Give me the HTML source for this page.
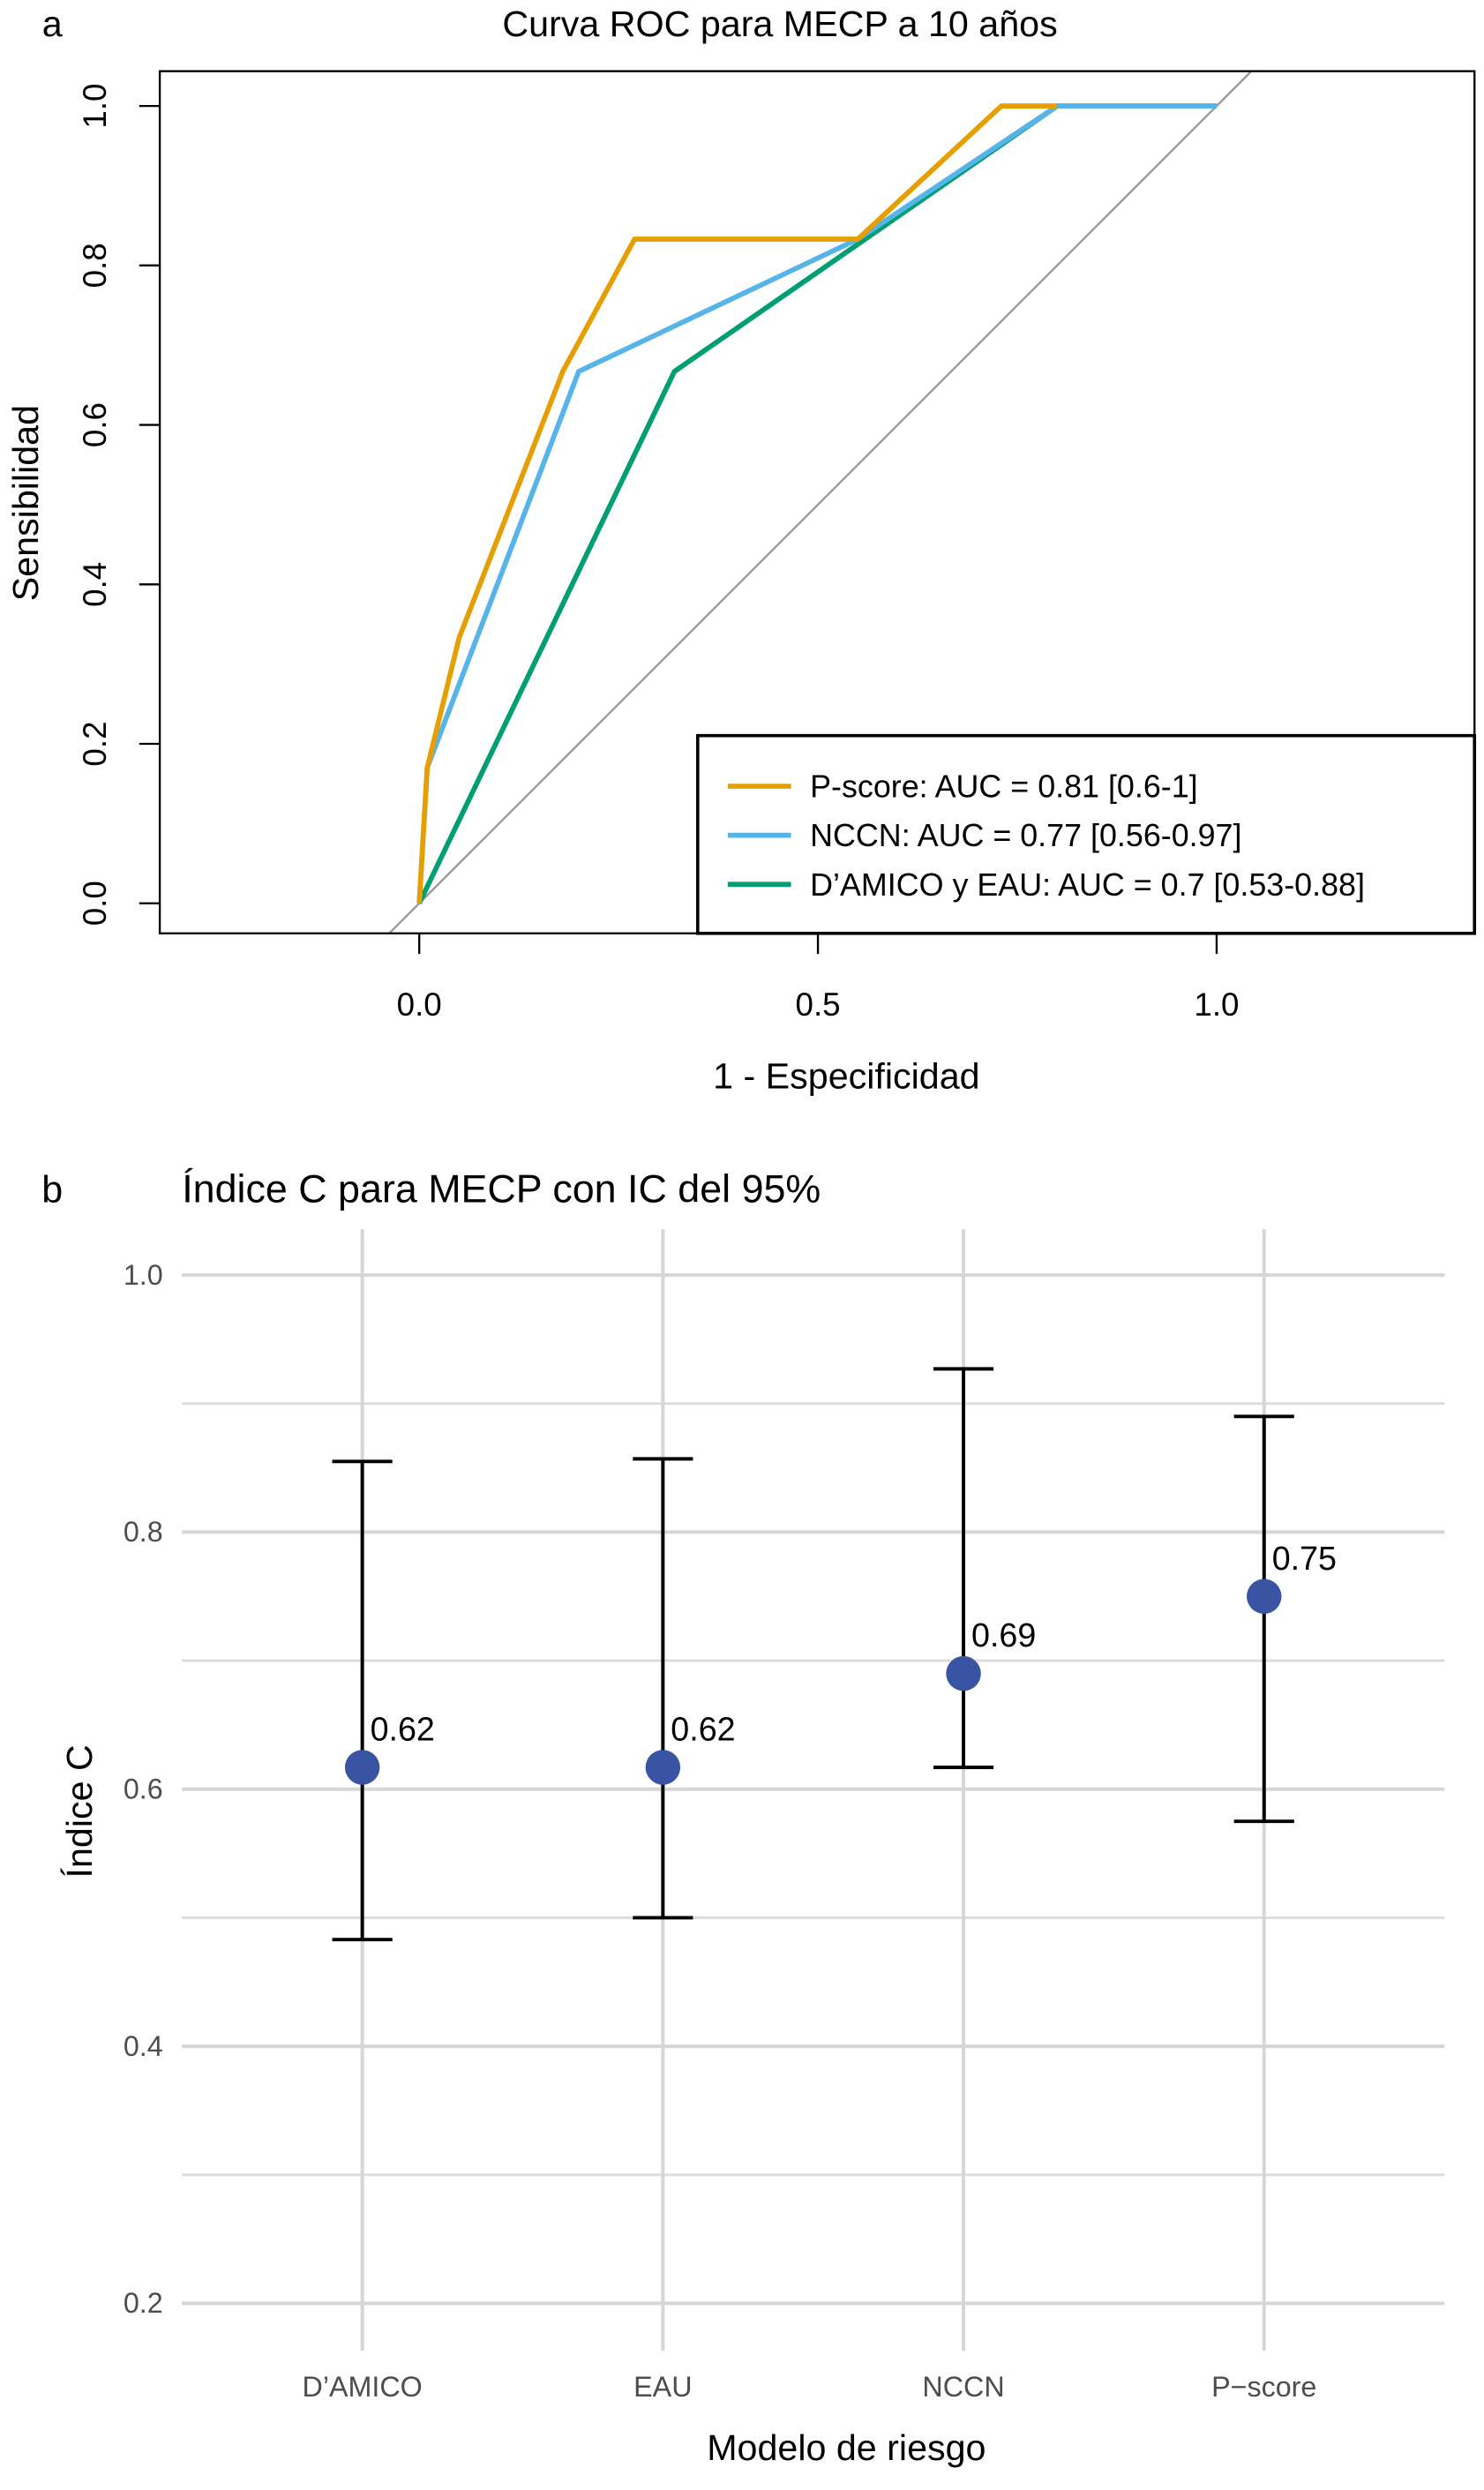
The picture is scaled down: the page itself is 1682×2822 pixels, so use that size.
<!DOCTYPE html>
<html><head><meta charset="utf-8"><style>
html,body{margin:0;padding:0;background:#fff}
svg{display:block;font-family:"Liberation Sans",sans-serif}
</style></head><body>
<svg id="fig" width="1682" height="2822" viewBox="0 0 938 1574" preserveAspectRatio="none" xmlns="http://www.w3.org/2000/svg">
<g id="pa"></g>
<g id="pb"></g>
</svg>
<script>
// ROC data
const rocNames = ["P-score","NCCN","D'AMICO y EAU"];
const rocFpr = [
  [0,0.01,0.05,0.18,0.27,0.55,0.73,0.80],
  [0,0.01,0.20,0.55,0.80,1.0],
  [0,0.32,0.80,1.0]
];
const rocTpr = [
  [0,0.17,0.333,0.667,0.833,0.833,1,1],
  [0,0.17,0.667,0.833,1,1],
  [0,0.667,1,1]
];
const rocLegend = ["P-score: AUC = 0.81 [0.6-1]","NCCN: AUC = 0.77 [0.56-0.97]","D\u2019AMICO y EAU: AUC = 0.7 [0.53-0.88]"];
const rocXTicks = [0,0.5,1];
const rocXTickLabels = ["0.0","0.5","1.0"];
const rocYTicks = [0,0.2,0.4,0.6,0.8,1];
const rocYTickLabels = ["0.0","0.2","0.4","0.6","0.8","1.0"];
// C-index data
const models = ["D\u2019AMICO","EAU","NCCN","P\u2212score"];
const cIndex = [0.617,0.617,0.69,0.75];
const cLabels = ["0.62","0.62","0.69","0.75"];
const ciLow = [0.483,0.5,0.617,0.575];
const ciHigh = [0.855,0.857,0.927,0.89];
const cYTicks = [0.2,0.4,0.6,0.8,1.0];
const cYTickLabels = ["0.2","0.4","0.6","0.8","1.0"];
const cYMinor = [0.3,0.5,0.7,0.9];

const NS="http://www.w3.org/2000/svg";
function mk(parent,tag,attrs,text){const e=document.createElementNS(NS,tag);for(const k in attrs)e.setAttribute(k,attrs[k]);if(text!==undefined)e.textContent=text;parent.appendChild(e);return e;}
const colors=["#E69F00","#56B4E9","#009E73"];

// Panel A
const pa=document.getElementById('pa');
const ax=v=>265+504*v, ay=v=>571-504*v;
let t;
t=mk(pa,'text',{x:33,y:23,'font-size':23,fill:'#000','text-anchor':'middle'},'a');

t=mk(pa,'text',{x:493,y:23,'font-size':23,'text-anchor':'middle'},'Curva ROC para MECP a 10 años');

mk(pa,'clipPath',{id:'clipA'});
mk(document.getElementById('clipA'),'rect',{x:101,y:45,width:831,height:545});
let d=mk(pa,'line',{x1:ax(-1),y1:ay(-1),x2:ax(2),y2:ay(2),stroke:'#999','stroke-width':1.3,'clip-path':'url(#clipA)'});

for(let s=2;s>=0;s--){
  const pts=rocFpr[s].map((x,i)=>ax(x)+','+ay(rocTpr[s][i])).join(' ');
  const l=mk(pa,'polyline',{points:pts,fill:'none',stroke:colors[s],'stroke-width':3.2,'stroke-linejoin':'round'});
  
  
}
let b=mk(pa,'rect',{x:101,y:45,width:831,height:545,fill:'none',stroke:'#000','stroke-width':1.3});

rocXTicks.forEach((v,i)=>{
  mk(pa,'line',{x1:ax(v),y1:590,x2:ax(v),y2:603,stroke:'#000','stroke-width':1.3});
  const tl=mk(pa,'text',{x:ax(v),y:642,'font-size':20.5,'text-anchor':'middle'},rocXTickLabels[i]);
  
});
rocYTicks.forEach((v,i)=>{
  mk(pa,'line',{x1:88,y1:ay(v),x2:101,y2:ay(v),stroke:'#000','stroke-width':1.3});
  const tl=mk(pa,'text',{x:67,y:ay(v),'font-size':20.5,'text-anchor':'middle',transform:`rotate(-90 67 ${ay(v)})`},rocYTickLabels[i]);
  
});
t=mk(pa,'text',{x:535,y:688,'font-size':23,'text-anchor':'middle'},'1 - Especificidad');

t=mk(pa,'text',{x:24,y:318,'font-size':23,'text-anchor':'middle',transform:'rotate(-90 24 318)'},'Sensibilidad');

const lg=mk(pa,'g',{});

mk(lg,'rect',{x:441,y:465,width:491,height:125,fill:'#fff',stroke:'#000','stroke-width':2});
rocLegend.forEach((s,i)=>{
  const y=497+31*i;
  mk(lg,'line',{x1:460,y1:y,x2:500,y2:y,stroke:colors[i],'stroke-width':3.2});
  const tl=mk(lg,'text',{x:512,y:y+7,'font-size':20},s);
  
});

// Panel B
const pb=document.getElementById('pb');
const by=v=>1456-(v-0.2)*812.5;
const bx=i=>229+190*i;
t=mk(pb,'text',{x:33,y:760,'font-size':24,'text-anchor':'middle'},'b');

t=mk(pb,'text',{x:115,y:760,'font-size':25},'Índice C para MECP con IC del 95%');

cYMinor.forEach(v=>mk(pb,'line',{x1:115,x2:913,y1:by(v),y2:by(v),stroke:'#dcdcdc','stroke-width':1.6}));
cYTicks.forEach((v,i)=>{
  mk(pb,'line',{x1:115,x2:913,y1:by(v),y2:by(v),stroke:'#d6d6d6','stroke-width':2.2});
  const tl=mk(pb,'text',{x:103,y:by(v)+6,'font-size':18,'text-anchor':'end',fill:'#4d4d4d'},cYTickLabels[i]);
  
});
models.forEach((m,i)=>{
  mk(pb,'line',{x1:bx(i),x2:bx(i),y1:777,y2:1486,stroke:'#d6d6d6','stroke-width':2.2});
  const tl=mk(pb,'text',{x:bx(i),y:1515,'font-size':18,'text-anchor':'middle',fill:'#4d4d4d'},m);
  
});
models.forEach((m,i)=>{
  const g=mk(pb,'g',{});
  
  mk(g,'line',{x1:bx(i),x2:bx(i),y1:by(ciLow[i]),y2:by(ciHigh[i]),stroke:'#000','stroke-width':2.2});
  mk(g,'line',{x1:bx(i)-19,x2:bx(i)+19,y1:by(ciLow[i]),y2:by(ciLow[i]),stroke:'#000','stroke-width':2.2});
  mk(g,'line',{x1:bx(i)-19,x2:bx(i)+19,y1:by(ciHigh[i]),y2:by(ciHigh[i]),stroke:'#000','stroke-width':2.2});
  const c=mk(pb,'circle',{cx:bx(i),cy:by(cIndex[i]),r:11,fill:'#3A54A4'});
  
  const tl=mk(pb,'text',{x:bx(i)+5,y:by(cIndex[i])-17,'font-size':21},cLabels[i]);
  
});
t=mk(pb,'text',{x:535,y:1555,'font-size':23,'text-anchor':'middle'},'Modelo de riesgo');

t=mk(pb,'text',{x:58,y:1145,'font-size':23,'text-anchor':'middle',transform:'rotate(-90 58 1145)'},'Índice C');

</script>
</body></html>
